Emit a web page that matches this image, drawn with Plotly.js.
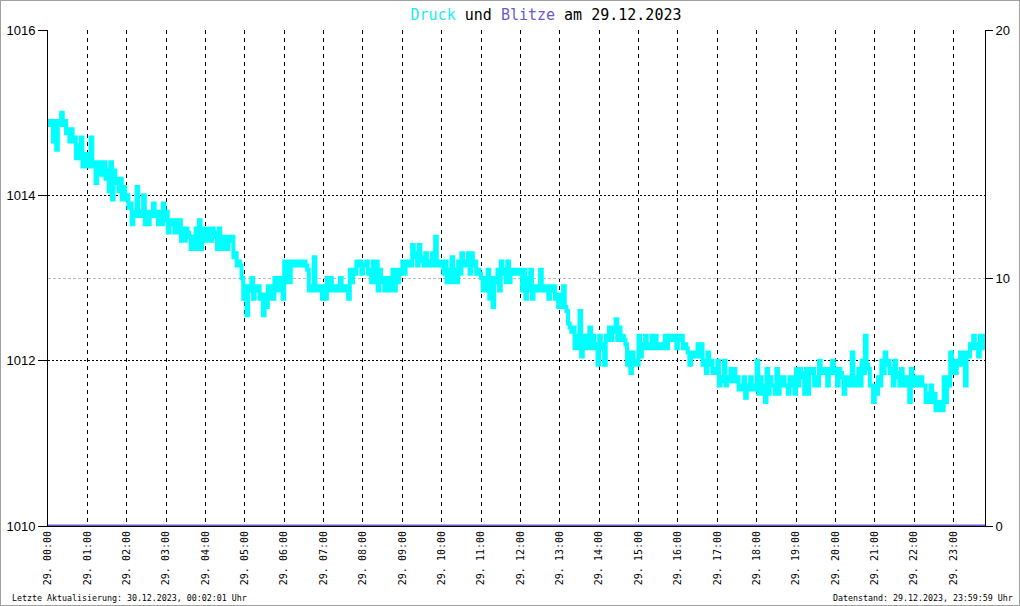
<!DOCTYPE html>
<html><head><meta charset="utf-8">
<script src="https://cdn.plot.ly/plotly-3.0.1.min.js"></script>
<style>html,body{margin:0;padding:0;background:#fff}
#chart{width:1018px;height:604px;border:1px solid #a0a0a0}</style>
</head><body><div id="chart"></div>
<script>
// Luftdruck (hPa), zwei Ablesungen je 5-Minuten-Abschnitt (Ober-/Unterkante), je Stunde
const druck_h00 = [1014.9,1014.85,1014.9,1014.65,1014.9,1014.55,1014.9,1014.85,1015.0,1014.85,1014.9,1014.75,1014.8,1014.65,1014.8,1014.65,1014.7,1014.45,1014.6,1014.45,1014.7,1014.35,1014.5,1014.35];
const druck_h01 = [1014.5,1014.35,1014.7,1014.35,1014.4,1014.15,1014.4,1014.25,1014.4,1014.25,1014.4,1014.2,1014.3,1014.05,1014.4,1013.95,1014.3,1014.15,1014.2,1014.05,1014.2,1013.95,1014.1,1013.95];
const druck_h02 = [1014.0,1013.85,1013.9,1013.65,1013.8,1013.75,1014.1,1013.75,1013.8,1013.75,1014.0,1013.65,1013.8,1013.65,1013.8,1013.75,1013.9,1013.75,1013.8,1013.65,1013.8,1013.65,1013.9,1013.7];
const druck_h03 = [1013.8,1013.55,1013.7,1013.65,1013.7,1013.55,1013.7,1013.55,1013.7,1013.45,1013.6,1013.45,1013.6,1013.55,1013.5,1013.35,1013.5,1013.35,1013.6,1013.35,1013.7,1013.35,1013.6,1013.45];
const druck_h04 = [1013.6,1013.45,1013.6,1013.45,1013.6,1013.55,1013.5,1013.35,1013.6,1013.35,1013.5,1013.35,1013.5,1013.35,1013.5,1013.45,1013.5,1013.25,1013.3,1013.15,1013.2,1013.15,1013.0,1012.75];
const druck_h05 = [1012.9,1012.55,1012.9,1012.85,1013.0,1012.75,1012.9,1012.85,1012.9,1012.75,1012.8,1012.55,1012.8,1012.65,1012.9,1012.75,1012.9,1012.75,1013.0,1012.85,1013.0,1012.85,1013.0,1012.75];
const druck_h06 = [1013.2,1012.95,1013.2,1012.95,1013.2,1013.15,1013.2,1013.15,1013.2,1013.15,1013.2,1013.15,1013.2,1013.15,1013.1,1012.85,1012.9,1012.85,1013.25,1012.85,1012.9,1012.85,1012.9,1012.75];
const druck_h07 = [1012.9,1012.75,1013.0,1012.85,1013.0,1012.85,1012.9,1012.85,1012.9,1012.85,1013.0,1012.85,1012.9,1012.85,1012.9,1012.75,1013.1,1012.95,1013.1,1013.05,1013.2,1013.15,1013.2,1013.05];
const druck_h08 = [1013.15,1013.15,1013.2,1013.05,1013.1,1012.95,1013.2,1012.95,1013.2,1012.85,1013.1,1012.95,1013.0,1012.85,1013.0,1012.85,1013.0,1012.85,1013.1,1012.85,1013.1,1012.95,1013.1,1013.05];
const druck_h09 = [1013.2,1013.05,1013.2,1013.15,1013.2,1013.15,1013.4,1013.25,1013.3,1013.15,1013.4,1013.25,1013.2,1013.15,1013.3,1013.15,1013.2,1013.15,1013.3,1013.15,1013.5,1013.15,1013.2,1013.15];
const druck_h10 = [1013.2,1013.05,1013.2,1012.95,1013.1,1012.95,1013.25,1012.95,1013.1,1012.95,1013.2,1013.05,1013.3,1013.15,1013.2,1013.15,1013.3,1013.05,1013.3,1013.15,1013.2,1013.05,1013.1,1013.05];
const druck_h11 = [1013.0,1012.85,1013.0,1012.85,1013.1,1012.75,1013.0,1012.65,1013.0,1012.95,1013.1,1012.85,1013.2,1013.05,1013.1,1012.95,1013.2,1012.95,1013.1,1013.05,1013.1,1013.05,1013.1,1013.05];
const druck_h12 = [1013.1,1012.85,1013.1,1012.75,1013.0,1012.85,1013.1,1012.75,1012.9,1012.85,1012.9,1012.85,1013.1,1012.85,1012.9,1012.85,1012.9,1012.75,1012.9,1012.85,1012.9,1012.75,1012.8,1012.65];
const druck_h13 = [1012.8,1012.65,1012.9,1012.65,1012.6,1012.45,1012.4,1012.35,1012.4,1012.15,1012.3,1012.15,1012.6,1012.05,1012.3,1012.15,1012.3,1012.15,1012.4,1012.15,1012.3,1012.15,1012.2,1011.95];
const druck_h14 = [1012.3,1012.15,1012.2,1011.95,1012.3,1012.25,1012.4,1012.25,1012.4,1012.35,1012.5,1012.25,1012.4,1012.25,1012.3,1012.25,1012.2,1011.95,1012.1,1011.85,1012.1,1011.95,1012.0,1011.95];
const druck_h15 = [1012.3,1012.05,1012.2,1012.15,1012.3,1012.15,1012.2,1012.15,1012.3,1012.15,1012.3,1012.15,1012.2,1012.15,1012.2,1012.15,1012.3,1012.15,1012.3,1012.25,1012.3,1012.25,1012.3,1012.15];
const druck_h16 = [1012.3,1012.25,1012.3,1012.15,1012.2,1012.15,1012.1,1011.95,1012.1,1012.05,1012.1,1012.05,1012.2,1012.05,1012.2,1011.95,1012.0,1011.85,1012.1,1011.95,1012.0,1011.85,1011.9,1011.85];
const druck_h17 = [1012.0,1011.7,1011.8,1011.75,1012.0,1011.7,1011.8,1011.75,1011.9,1011.75,1011.9,1011.75,1011.8,1011.65,1011.7,1011.65,1011.8,1011.55,1011.7,1011.65,1011.8,1011.65,1011.7,1011.65];
const druck_h18 = [1012.0,1011.6,1011.8,1011.6,1011.7,1011.5,1011.9,1011.6,1011.8,1011.7,1011.7,1011.6,1011.9,1011.6,1011.8,1011.7,1011.8,1011.7,1011.7,1011.6,1011.8,1011.7,1011.8,1011.6];
const druck_h19 = [1011.9,1011.7,1011.9,1011.85,1011.8,1011.6,1011.9,1011.6,1011.9,1011.85,1011.9,1011.7,1011.8,1011.7,1012.0,1011.85,1011.9,1011.85,1011.9,1011.7,1011.9,1011.85,1012.0,1011.85];
const druck_h20 = [1011.9,1011.7,1011.9,1011.85,1011.8,1011.6,1011.8,1011.7,1011.8,1011.7,1012.1,1011.7,1011.8,1011.7,1011.9,1011.7,1012.0,1011.85,1012.3,1011.95,1011.9,1011.7,1011.7,1011.5];
const druck_h21 = [1011.7,1011.6,1011.8,1011.7,1012.0,1011.85,1012.1,1011.95,1012.0,1011.85,1011.9,1011.7,1012.0,1011.85,1011.8,1011.7,1011.9,1011.7,1011.8,1011.7,1011.8,1011.5,1011.9,1011.7];
const druck_h22 = [1011.8,1011.7,1011.8,1011.7,1011.8,1011.7,1011.7,1011.5,1011.6,1011.5,1011.7,1011.5,1011.6,1011.4,1011.5,1011.4,1011.5,1011.4,1011.8,1011.5,1011.8,1011.7,1012.1,1011.85];
const druck_h23 = [1012.0,1011.85,1012.0,1011.95,1012.1,1011.95,1012.1,1011.7,1012.1,1012.05,1012.2,1012.15,1012.3,1012.15,1012.2,1012.05,1012.3,1012.15,1012.3,1012.15];

// Blitze (Anzahl) je Stunde
const blitzeStunden = [0,1,2,3,4,5,6,7,8,9,10,11,12,13,14,15,16,17,18,19,20,21,22,23,24];
const blitzeAnzahl  = [0,0,0,0,0,0,0,0,0,0,0,0,0,0,0,0,0,0,0,0,0,0,0,0,0];

const stundenTicks = [0,1,2,3,4,5,6,7,8,9,10,11,12,13,14,15,16,17,18,19,20,21,22,23];
const stundenLabels = ["29. 00:00","29. 01:00","29. 02:00","29. 03:00","29. 04:00","29. 05:00","29. 06:00","29. 07:00","29. 08:00","29. 09:00","29. 10:00","29. 11:00","29. 12:00","29. 13:00","29. 14:00","29. 15:00","29. 16:00","29. 17:00","29. 18:00","29. 19:00","29. 20:00","29. 21:00","29. 22:00","29. 23:00"];
const druckTicks = [1010,1012,1014,1016];
const blitzeTicks = [0,10,20];

const stunden = [druck_h00,druck_h01,druck_h02,druck_h03,druck_h04,druck_h05,druck_h06,druck_h07,druck_h08,druck_h09,druck_h10,druck_h11,druck_h12,druck_h13,druck_h14,druck_h15,druck_h16,druck_h17,druck_h18,druck_h19,druck_h20,druck_h21,druck_h22,druck_h23];
const dx = [], dy = [];
stunden.forEach((arr, h) => {
  arr.forEach((v, i) => { dx.push(h + i / arr.length * (h === 23 ? 20/24 : 1)); dy.push(v); });
});

const traces = [
  {x: blitzeStunden, y: blitzeAnzahl, yaxis: 'y2', type: 'scatter', mode: 'lines',
   line: {color: '#6a5acd', width: 3}, hoverinfo: 'skip'},
  {x: dx, y: dy, type: 'scatter', mode: 'lines', line: {color: '#00ffff', width: 4, shape: 'hv'}}
];

const tickFont = {family: 'Liberation Sans, Arial, sans-serif', size: 13, color: '#000'};
const layout = {
  width: 1018, height: 604,
  margin: {l: 47, r: 34, t: 29, b: 79},
  paper_bgcolor: '#fff', plot_bgcolor: '#fff',
  showlegend: false,
  title: {text: '<span style="color:#1ee8f0">Druck</span> und <span style="color:#6a5acd">Blitze</span> am 29.12.2023',
          font: {family: 'DejaVu Sans Mono, monospace', size: 15, color: '#000'},
          x: 0.5354, xanchor: 'center', xref: 'container', y: 0.978, yanchor: 'middle', yref: 'container'},
  xaxis: {range: [0, 23.8], tickvals: stundenTicks, ticktext: stundenLabels, tickangle: -90,
          tickfont: {family: 'DejaVu Sans Mono, monospace', size: 10, color: '#000'},
          showgrid: true, gridcolor: '#000', gridwidth: 1, griddash: '4px,4px',
          showline: true, linecolor: '#000', linewidth: 1, ticks: '', zeroline: false, fixedrange: true},
  yaxis: {range: [1010, 1016], tickvals: druckTicks, ticks: 'outside', ticklen: 9, tickcolor: '#000',
          showline: true, linecolor: '#000', linewidth: 1, showgrid: true, gridcolor: '#000', griddash: '2px,2px',
          tickfont: tickFont, zeroline: false, fixedrange: true},
  yaxis2: {range: [0, 20], tickvals: blitzeTicks, overlaying: 'y', side: 'right', ticks: 'outside', ticklen: 7,
           tickcolor: '#000', showline: true, linecolor: '#000', linewidth: 1, showgrid: true,
           gridcolor: '#bbbbbb', griddash: '3px,2px', tickfont: tickFont, zeroline: false, fixedrange: true},
  annotations: [
    {text: 'Letzte Aktualisierung: 30.12.2023, 00:02:01 Uhr', xref: 'paper', yref: 'paper',
     x: -0.0406, xanchor: 'left', y: -0.145, yanchor: 'middle', showarrow: false,
     font: {family: 'DejaVu Sans Mono, monospace', size: 8.3, color: '#000'}},
    {text: 'Datenstand: 29.12.2023, 23:59:59 Uhr', xref: 'paper', yref: 'paper',
     x: 1.032, xanchor: 'right', y: -0.145, yanchor: 'middle', showarrow: false,
     font: {family: 'DejaVu Sans Mono, monospace', size: 8.3, color: '#000'}}
  ]
};
Plotly.newPlot('chart', traces, layout, {staticPlot: true, displayModeBar: false});
</script></body></html>
